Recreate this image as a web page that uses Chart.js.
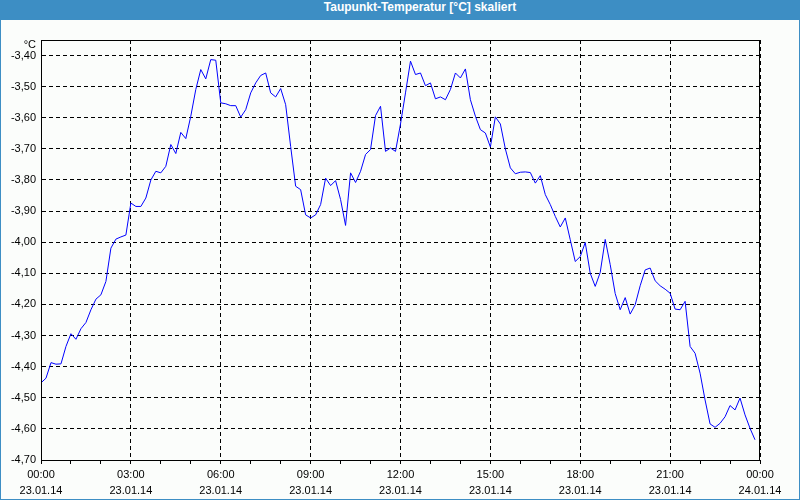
<!DOCTYPE html>
<html>
<head>
<meta charset="utf-8">
<script src="https://cdn.jsdelivr.net/npm/chart.js@4/dist/chart.umd.min.js"></script>
<style>
  html, body { margin: 0; padding: 0; background: #3d8ec4; }
  #frame { position: relative; width: 800px; height: 500px; background: #3d8ec4; overflow: hidden; }
  #title { position: absolute; left: 0; top: 0; width: 800px; height: 20px; line-height: 20px;
           color: #ffffff; font: bold 12px "Liberation Sans", Arial, sans-serif; text-align: center; text-indent: 40px; }
  #box { position: absolute; left: 1px; top: 20px; width: 798px; height: 479px; background: #fbfdfb; }
  canvas { display: block; }
</style>
</head>
<body>
<div id="frame">
  <div id="title">Taupunkt-Temperatur [°C] skaliert</div>
  <div id="box"><canvas id="c" width="798" height="479"></canvas></div>
</div>
<script>
// Time of first sample (minutes after 23.01.14 00:00) and sampling step
const startMinute = 0;
const stepMinutes = 10;

// Dew point temperature [°C], one sample every 10 minutes, 00:00 .. 23:50
const dewPoint = [
  -4.452, -4.437, -4.387, -4.392, -4.391, -4.335, -4.294, -4.312, -4.278, -4.258,
  -4.217, -4.183, -4.169, -4.126, -4.019, -3.990, -3.983, -3.977, -3.874, -3.885,
  -3.885, -3.858, -3.800, -3.772, -3.777, -3.756, -3.686, -3.715, -3.647, -3.667,
  -3.595, -3.509, -3.445, -3.475, -3.413, -3.415, -3.552, -3.555, -3.561, -3.561,
  -3.598, -3.574, -3.520, -3.488, -3.464, -3.456, -3.520, -3.533, -3.506, -3.558,
  -3.692, -3.820, -3.831, -3.912, -3.922, -3.912, -3.879, -3.794, -3.818, -3.802,
  -3.863, -3.946, -3.777, -3.808, -3.772, -3.718, -3.702, -3.593, -3.563, -3.708,
  -3.697, -3.708, -3.620, -3.520, -3.418, -3.461, -3.456, -3.497, -3.488, -3.539,
  -3.533, -3.542, -3.509, -3.456, -3.472, -3.443, -3.542, -3.595, -3.638, -3.649,
  -3.694, -3.597, -3.620, -3.700, -3.761, -3.780, -3.775, -3.774, -3.776, -3.810,
  -3.786, -3.847, -3.879, -3.917, -3.951, -3.922, -3.992, -4.062, -4.046, -4.001,
  -4.100, -4.142, -4.097, -3.991, -4.072, -4.165, -4.217, -4.178, -4.231, -4.201,
  -4.140, -4.089, -4.083, -4.124, -4.140, -4.151, -4.164, -4.215, -4.217, -4.190,
  -4.335, -4.357, -4.421, -4.507, -4.584, -4.595, -4.582, -4.561, -4.525, -4.539,
  -4.501, -4.555, -4.598, -4.635
];

// X axis labels every 3 hours
const xTickLabels = [
  ["00:00", "23.01.14"], ["03:00", "23.01.14"], ["06:00", "23.01.14"],
  ["09:00", "23.01.14"], ["12:00", "23.01.14"], ["15:00", "23.01.14"],
  ["18:00", "23.01.14"], ["21:00", "23.01.14"], ["00:00", "24.01.14"]
];
const xMajorMinutes = 180;
const xMinorMinutes = 60;
const xMax = 1440;

// Y axis ticks
const yTickValues = [-4.70, -4.60, -4.50, -4.40, -4.30, -4.20, -4.10, -4.00, -3.90, -3.80, -3.70, -3.60, -3.50, -3.40];
const yTickLabels = ["-4,70", "-4,60", "-4,50", "-4,40", "-4,30", "-4,20", "-4,10", "-4,00", "-3,90", "-3,80", "-3,70", "-3,60", "-3,50", "-3,40"];
const yMin = -4.70, yMax = -3.35;
const yUnit = "°C";

const points = dewPoint.map((v, i) => ({ x: startMinute + i * stepMinutes, y: v }));

const FONT = { family: '"Liberation Sans", Arial, sans-serif', size: 11 };

const framePlugin = {
  id: 'framePlugin',
  afterDraw(chart) {
    const { ctx, chartArea: a } = chart;
    ctx.save();
    ctx.strokeStyle = '#000';
    ctx.lineWidth = 1;
    ctx.strokeRect(Math.round(a.left) + 0.5, Math.round(a.top) + 0.5,
                   Math.round(a.right - a.left) - 1, Math.round(a.bottom - a.top));
    ctx.fillStyle = '#000';
    ctx.font = '11px "Liberation Sans", Arial, sans-serif';
    ctx.textAlign = 'right';
    ctx.textBaseline = 'middle';
    ctx.fillText(yUnit, a.left - 5, a.top + 5);
    ctx.restore();
  }
};

new Chart(document.getElementById('c'), {
  type: 'line',
  data: {
    datasets: [{
      data: points,
      borderColor: '#0000ff',
      borderWidth: 1,
      pointRadius: 0,
      tension: 0,
      fill: false
    }]
  },
  options: {
    responsive: false,
    animation: false,
    events: [],
    layout: { padding: { top: 20, right: 39, left: 0, bottom: 0 } },
    plugins: { legend: { display: false }, tooltip: { enabled: false }, title: { display: false } },
    scales: {
      x: {
        type: 'linear',
        min: 0,
        max: xMax,
        afterBuildTicks(scale) {
          const t = [];
          for (let m = 0; m <= xMax; m += xMinorMinutes) t.push({ value: m });
          scale.ticks = t;
        },
        afterFit(scale) { scale.height = 39; },
        ticks: {
          autoSkip: false,
          maxRotation: 0,
          minRotation: 0,
          padding: 3,
          color: '#000',
          font: { ...FONT, lineHeight: '16px' },
          callback(value) {
            return value % xMajorMinutes === 0 ? xTickLabels[value / xMajorMinutes] : '';
          }
        },
        grid: {
          color: (c) => (c.tick && c.tick.value % xMajorMinutes === 0) ? '#000' : 'rgba(0,0,0,0)',
          tickColor: '#000',
          tickLength: 4,
          lineWidth: 1
        },
        border: { display: true, color: '#000', width: 1, dash: [4, 3] }
      },
      y: {
        type: 'linear',
        min: yMin,
        max: yMax,
        afterBuildTicks(scale) {
          scale.ticks = yTickValues.map(v => ({ value: v }));
        },
        afterFit(scale) { scale.width = 40; },
        ticks: {
          padding: 5,
          color: '#000',
          font: FONT,
          callback(value) {
            const i = yTickValues.findIndex(v => Math.abs(v - value) < 1e-6);
            return i >= 0 ? yTickLabels[i] : '';
          }
        },
        grid: { color: '#000', drawTicks: false, lineWidth: 1 },
        border: { display: true, color: '#000', width: 1, dash: [4, 3] }
      }
    }
  },
  plugins: [framePlugin]
});
</script>
</body>
</html>
